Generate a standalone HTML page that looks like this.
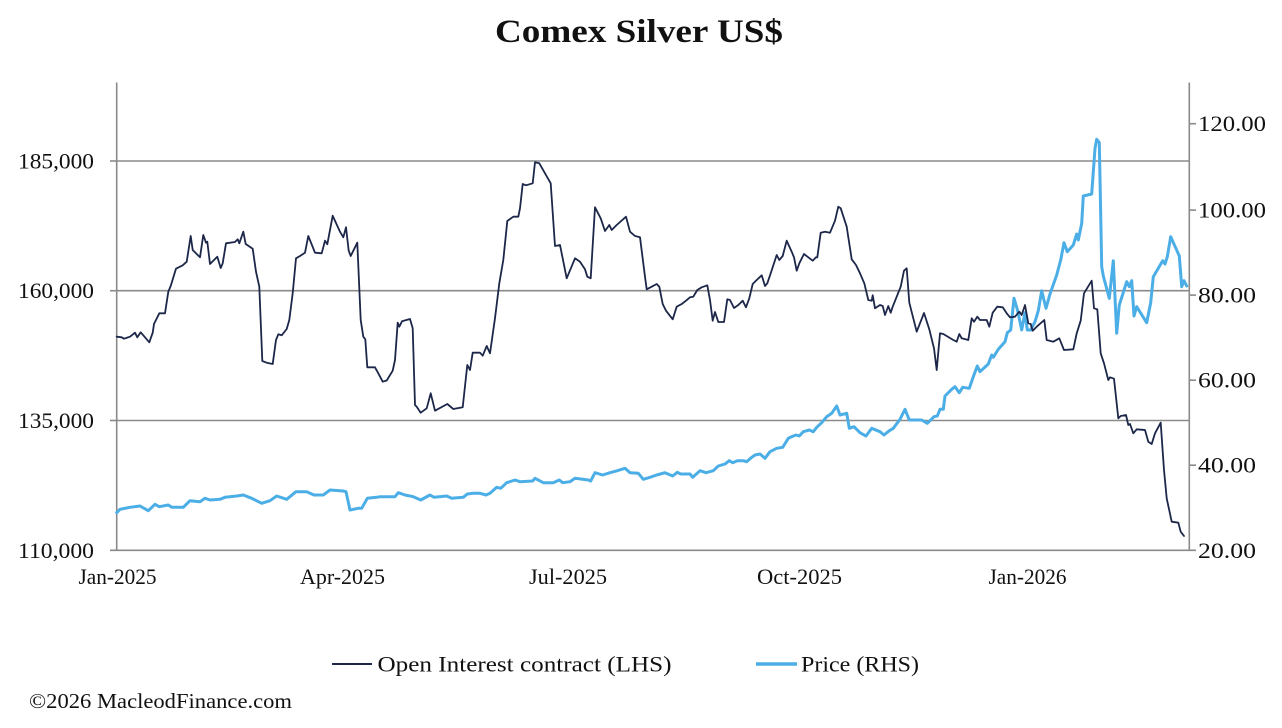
<!DOCTYPE html>
<html><head><meta charset="utf-8"><style>
html,body{margin:0;padding:0;background:#fff;}
svg{display:block;}
text{font-family:"Liberation Serif","Times New Roman",serif;fill:#111;}
</style></head><body>
<svg width="1282" height="728" viewBox="0 0 1282 728" xmlns="http://www.w3.org/2000/svg">
<rect width="1282" height="728" fill="#fff"/>
<text x="639" y="42" font-size="33" font-weight="bold" text-anchor="middle" textLength="288" lengthAdjust="spacingAndGlyphs">Comex Silver US$</text>

<!-- gridlines -->
<g stroke="#8a8a8a" stroke-width="1.6" fill="none">
<line x1="116.7" y1="161" x2="1189.3" y2="161"/>
<line x1="116.7" y1="290.7" x2="1189.3" y2="290.7"/>
<line x1="116.7" y1="420.5" x2="1189.3" y2="420.5"/>
<line x1="110" y1="550.3" x2="1196" y2="550.3"/>
<line x1="116.7" y1="82.5" x2="116.7" y2="550.3"/>
<line x1="1189.3" y1="82.5" x2="1189.3" y2="550.3"/>
<line x1="110" y1="161" x2="116.7" y2="161"/>
<line x1="110" y1="290.7" x2="116.7" y2="290.7"/>
<line x1="110" y1="420.5" x2="116.7" y2="420.5"/>
<line x1="1189.3" y1="123.7" x2="1196" y2="123.7"/>
<line x1="1189.3" y1="210.1" x2="1196" y2="210.1"/>
<line x1="1189.3" y1="295.1" x2="1196" y2="295.1"/>
<line x1="1189.3" y1="380.2" x2="1196" y2="380.2"/>
<line x1="1189.3" y1="465.2" x2="1196" y2="465.2"/>
</g>

<!-- left labels -->
<g font-size="22.5" text-anchor="end">
<text x="94" y="168.5" textLength="76" lengthAdjust="spacingAndGlyphs">185,000</text>
<text x="94" y="298.2" textLength="76" lengthAdjust="spacingAndGlyphs">160,000</text>
<text x="94" y="428" textLength="76" lengthAdjust="spacingAndGlyphs">135,000</text>
<text x="94" y="557.8" textLength="76" lengthAdjust="spacingAndGlyphs">110,000</text>
</g>
<!-- right labels -->
<g font-size="22.5">
<text x="1198" y="131.2" textLength="68" lengthAdjust="spacingAndGlyphs">120.00</text>
<text x="1198" y="217.6" textLength="68" lengthAdjust="spacingAndGlyphs">100.00</text>
<text x="1198" y="302.6" textLength="58" lengthAdjust="spacingAndGlyphs">80.00</text>
<text x="1198" y="387.7" textLength="58" lengthAdjust="spacingAndGlyphs">60.00</text>
<text x="1198" y="472.7" textLength="58" lengthAdjust="spacingAndGlyphs">40.00</text>
<text x="1198" y="557.8" textLength="58" lengthAdjust="spacingAndGlyphs">20.00</text>
</g>
<!-- x labels -->
<g font-size="22.5" text-anchor="middle">
<text x="117.5" y="584" textLength="78" lengthAdjust="spacingAndGlyphs">Jan-2025</text>
<text x="342.5" y="584" textLength="85" lengthAdjust="spacingAndGlyphs">Apr-2025</text>
<text x="568" y="584" textLength="78" lengthAdjust="spacingAndGlyphs">Jul-2025</text>
<text x="799.5" y="584" textLength="85" lengthAdjust="spacingAndGlyphs">Oct-2025</text>
<text x="1027.5" y="584" textLength="78" lengthAdjust="spacingAndGlyphs">Jan-2026</text>
</g>

<!-- Price series -->
<polyline fill="none" stroke="#4caee6" stroke-width="3" stroke-linejoin="round" stroke-linecap="round" points="
116.7,512.7 120,509.3 130,507.3 140,506 148.3,510.7 155,504.3 159.3,506.7 168.3,505 171.7,507.3 183.3,507.3 190,500.7 200,501.7 205,498.3 210,500 220,499.3 225,497.3 236.7,496 243.3,495 251.7,498.3 261.7,503.3 270,500.7 276.7,496 286.7,499.3 296,491.7 306.7,491.7 314,495 323.3,495 330,490 343.3,491 346,491.7 350,510 358.3,508.3 361.7,508.3 367.3,498.3 376.7,497.3 380,496.7 395,496.7 398.3,492.7 405,495 413.3,496.7 420.7,500 430,495 434,497.3 446.7,496 451.7,498.3 463.3,497.3 467.3,494 473.3,493.3 480,493.3 486,495 490,493.3 496.7,487.3 500.7,488.3 506.7,482.7 515,480 520,481.7 532.7,481 535,478.3 543.3,482.7 553.3,482.7 559.3,480 562.7,482.7 570,481.7 575,478.3 588.3,480 590.7,481 595,472.7 602.7,475 610,472.7 617.3,470.7 625,468.3 630,472.7 638.3,473.3 643.3,479.3 650,477.3 656.7,475 665,472.7 672.7,476 677.3,472.3 680.7,474 690,474 692.7,477.3 700,470.7 706,472.7 713.3,470.7 718.3,466 725,464 729.3,460.7 732.7,462.7 737.3,460.7 743.3,460.7 746.7,461.7 751.7,457.3 755,455 760,454 765,458.3 770,451.7 776.7,448.3 782.7,447.3 788.3,438.3 793.3,436 796,435 799.3,436 803.3,431.7 809.3,430 813.3,431.7 816.7,427.3 821.7,422.7 826.7,416.7 831.7,413.3 836.7,406 840,415 846.7,413.3 849.3,428.3 854,426.7 860,432.7 866,436 871.7,428.3 880,431.7 884,435 889.3,430.7 893.3,428.3 900,419.3 905,409.3 909.3,420 921.7,420 927.3,423.3 934,416.7 937.3,416 940,409.3 943.3,409.3 945,396 951.7,389.3 955,386.7 959.3,392.7 962.7,387.3 969.3,388.3 973.3,376.7 977.3,366 980,371.7 988.3,364 991.7,355 993.3,357.3 998.3,349.3 1005,341.7 1007.3,332.7 1010.7,330 1014,298.3 1017.3,309.3 1021.7,330 1025,312.7 1027.3,330 1030.7,330 1035,321.7 1038.3,310.7 1041.7,290.7 1046,308.3 1050,294 1056.7,275 1060.7,260 1064,242.7 1067.3,251.7 1073.3,245 1076.7,234 1078.3,240 1081.7,223.3 1083.3,196 1091.7,194 1095,148.3 1096.7,139.3 1099.3,142.7 1101.7,266.7 1103.3,276 1109.3,298.3 1113.3,260.7 1116.7,333.3 1119.3,305 1126.7,281.7 1129.3,286.7 1131.7,280.7 1134,316 1136.7,306.7 1146.7,322.7 1150.7,302.7 1153.3,276.7 1162.7,260.7 1165,264 1167.3,256.7 1170.7,236.7 1179.3,256 1181.7,286.7 1184,280.7 1186.7,286"/>

<!-- Open interest series -->
<polyline fill="none" stroke="#1c2749" stroke-width="1.8" stroke-linejoin="round" stroke-linecap="round" points="
116.7,336.7 121.7,337.3 124,338.7 130,336.7 135,332.7 137.3,337.3 140.7,332.3 145,337.3 149.3,342.3 152.7,332.7 154,324 159.3,313.3 165,313.3 168.3,291.7 170.7,286 176,268.7 182.7,265.3 186.7,261.7 190.7,236 192.7,250 200,257.3 203.3,235 206,242.7 207.3,241.7 210,264 217.3,256.7 220.7,268 222.7,263.3 226,243.3 235,242 237.7,239.3 239.3,243.3 243.3,231.7 245.7,244 252.7,248.7 256,271.7 259.3,286.7 262.3,361 266.7,362.7 272.7,364 276,340 278.3,334.3 281.7,335.3 286.7,329 289.3,320 292.7,293.3 296,258.3 300,256 305,252.7 308.3,236 315,252.7 321.7,253.3 325,240.7 327.3,244.3 332.7,215.7 340,231.7 343.3,237.3 346,227.3 348.7,250.7 350.7,256 357.3,242.7 359.3,288.3 360.7,320 363.3,336.7 365.3,339.3 367.3,367.3 375,367.3 378.3,373.3 382.7,381.7 386.7,380.5 392.7,370.7 395,360 397.7,322.7 399.3,326.7 402,321.3 410,319 412.7,328.3 415,405 416.7,406.7 420.7,412.7 426.7,408.3 430.7,393.3 435,410.7 447.3,404 453.3,409 462.7,407.3 467.3,365 470,370 472.7,352.7 480,352.7 482.7,355.7 486.7,346 490,353.3 495,318.3 499.3,283.3 503.3,260 507.3,221 513.3,216.7 518.3,216.7 520,208.3 522.7,184 526,185.3 532.7,183.3 535,162.3 539.3,163.3 550.7,183.3 555,246 560,245 566.7,278.3 575,258.3 580,261.7 585,269.3 587.3,276.7 590.7,278.3 595,207.3 600.7,218.3 605,231 609.3,225 611.7,230 616.7,225 626,216.7 630,231.7 635,236 640,237.3 645,276.7 646.7,289.3 651.7,286.7 656.7,284 659.3,286.7 662.7,304 666,310.7 672.7,319.3 676.7,306.7 681.7,304 686,300.7 690,297.3 693.3,296.7 697.3,290 701.7,287.3 707.3,285.3 710,300 712.7,320.7 715,312 718.3,322 724,322 727.3,299.3 730,300 734,308 738.3,305 742.7,300.7 746,307.3 749.3,298.3 752.7,284 756.7,280 761.7,275.3 765,286 767.3,283.3 770.7,273.3 776.7,255 779.3,260 782.7,256 786.7,240.7 791.7,251.7 794,257.3 796.7,270.7 799.3,263.3 804,254 808.3,257.3 812.7,260.7 816,257.3 817.3,257.3 820.7,232.7 825,231.7 830,232.7 835,220.7 838.3,206.7 840.7,208.3 846.7,226.7 851.7,259.3 856,265 860,273.3 864.3,283.3 868.3,300 871.7,300.7 872.7,295.3 875,308.3 880,305 882.7,306 885,315 888.3,306 890.7,312.7 892.7,306.7 896.7,296.7 900.7,286.7 904,270.7 906.7,268.3 909.3,302.7 916.7,331.7 924,313 929.3,329.3 934,348.3 936.7,370 940,333.3 943.3,334 953.3,340 956.7,341.7 959.3,334 961.7,338.3 968.3,340 971.7,318.3 974,321.7 977.3,316.7 980,320 986.7,320 989.3,326.7 992.7,312.7 997.3,306.7 1002.7,307.3 1006.7,313.3 1010,317.3 1015,316.7 1019.3,311.7 1021.7,315 1025,305 1028.3,323.3 1030.7,324 1032.7,330.7 1036.7,326.7 1044.3,320 1046.7,340 1053.3,341.7 1059.3,338.3 1064,350 1073.3,349.3 1076.7,333.3 1080.7,320.7 1084,293.3 1091.7,280.7 1094,308.3 1097.3,309.3 1100.7,353.3 1104,363.3 1108.3,380 1110,377.3 1114,378.7 1118.3,418.3 1120.7,416 1126,415 1128.3,425 1130,424 1133.3,433.3 1136.7,429.3 1145,430 1148.3,441.7 1151.7,444 1155,433.3 1160.7,422.7 1164,470 1166.7,498.3 1171.7,521.7 1178.3,522.7 1180.7,531.7 1184,536"/>

<!-- legend -->
<line x1="332" y1="664" x2="372" y2="664" stroke="#1c2749" stroke-width="2"/>
<text x="377.5" y="671.5" font-size="22.5" textLength="294" lengthAdjust="spacingAndGlyphs">Open Interest contract (LHS)</text>
<line x1="756" y1="664" x2="797" y2="664" stroke="#4caee6" stroke-width="3.5"/>
<text x="801" y="671.5" font-size="22.5" textLength="118" lengthAdjust="spacingAndGlyphs">Price (RHS)</text>

<!-- footer -->
<text x="29" y="708" font-size="21" textLength="263" lengthAdjust="spacingAndGlyphs">©2026 MacleodFinance.com</text>
</svg>
</body></html>
